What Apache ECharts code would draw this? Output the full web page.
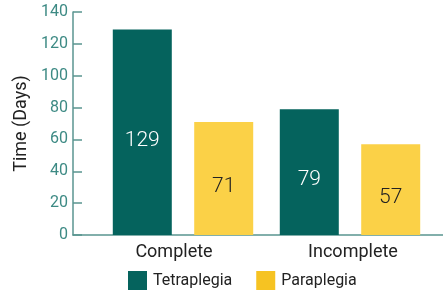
<!DOCTYPE html>
<html>
<head>
<meta charset="utf-8">
<style>
  html, body { margin: 0; padding: 0; background: #fff; }
  #chart { width: 443px; height: 291px; }
</style>
<script src="https://cdn.jsdelivr.net/npm/echarts@6/dist/echarts.min.js"></script>
</head>
<body>
<div id="chart"></div>
<script>
const categories = ['Complete', 'Incomplete']
const tetraplegia = [129, 79]
const paraplegia = [71, 57]
const seriesNames = ['Tetraplegia', 'Paraplegia']

const teal = '#05635d'
const yellow = '#fbd147'
const axisColor = '#5a9590'
const textColor = '#222222'
const font = 'Roboto'

const chart = echarts.init(document.getElementById('chart'))

const barLabel = (color) => ({
  show: true,
  position: 'inside',
  offset: [0, 8],
  color,
  fontFamily: font,
  fontSize: 21,
  fontWeight: 300,
})

chart.setOption({
  animation: false,
  textStyle: { fontFamily: font },
  grid: [
    { left: 99.5, right: 9.5, top: 12, bottom: 56 },
    { left: 73, right: 0, top: 12, bottom: 56 },
  ],
  legend: {
    data: [
      { name: seriesNames[0], itemStyle: { color: teal } },
      { name: seriesNames[1], itemStyle: { color: '#f6c322' } },
    ],
    left: 128,
    top: 271,
    padding: 0,
    itemWidth: 19,
    itemHeight: 19,
    itemGap: 24,
    icon: 'rect',
    textStyle: { color: textColor, fontSize: 16, fontFamily: font, padding: [0, 0, 0, 1] },
  },
  xAxis: [
    {
      type: 'category',
      data: categories,
      gridIndex: 0,
      axisLine: { show: false },
      axisTick: { show: false },
      axisLabel: {
        color: textColor,
        fontSize: 18,
        margin: 8,
        fontFamily: font,
        // the source places the first label a little left of its bars
        formatter: (value, index) => (index === 0 ? '{a|' + value + '}' : '{b|' + value + '}'),
        rich: {
          a: { fontSize: 18, color: textColor, fontFamily: font, padding: [0, 18, 0, 0] },
          b: { fontSize: 18, color: textColor, fontFamily: font, padding: [0, 0, 0, 6] },
        },
      },
    },
    {
      type: 'value',
      gridIndex: 1,
      axisLine: { show: true, lineStyle: { color: axisColor, width: 1.5 } },
      axisTick: { show: false },
      axisLabel: { show: false },
      splitLine: { show: false },
    },
  ],
  yAxis: [
    {
      type: 'value',
      gridIndex: 0,
      min: 0,
      max: 140,
      interval: 20,
      offset: 26.5,
      name: 'Time (Days)',
      nameLocation: 'middle',
      nameRotate: 90,
      nameGap: 42,
      nameTextStyle: { color: textColor, fontSize: 18, fontFamily: font },
      axisLine: { show: true, lineStyle: { color: axisColor, width: 1.5 } },
      axisTick: { show: true, inside: true, length: 9, lineStyle: { color: axisColor, width: 1.5 } },
      axisLabel: { color: '#3d8a84', fontSize: 16, margin: 5, fontFamily: font },
      splitLine: { show: false },
    },
    {
      type: 'value',
      gridIndex: 1,
      show: false,
    },
  ],
  series: [
    {
      name: seriesNames[0],
      type: 'bar',
      data: tetraplegia,
      barWidth: 59,
      barGap: '38%',
      itemStyle: { color: teal },
      label: barLabel('#ffffff'),
    },
    {
      name: seriesNames[1],
      type: 'bar',
      data: paraplegia,
      barWidth: 59,
      itemStyle: { color: yellow },
      label: barLabel(textColor),
    },
  ],
})
</script>
</body>
</html>
